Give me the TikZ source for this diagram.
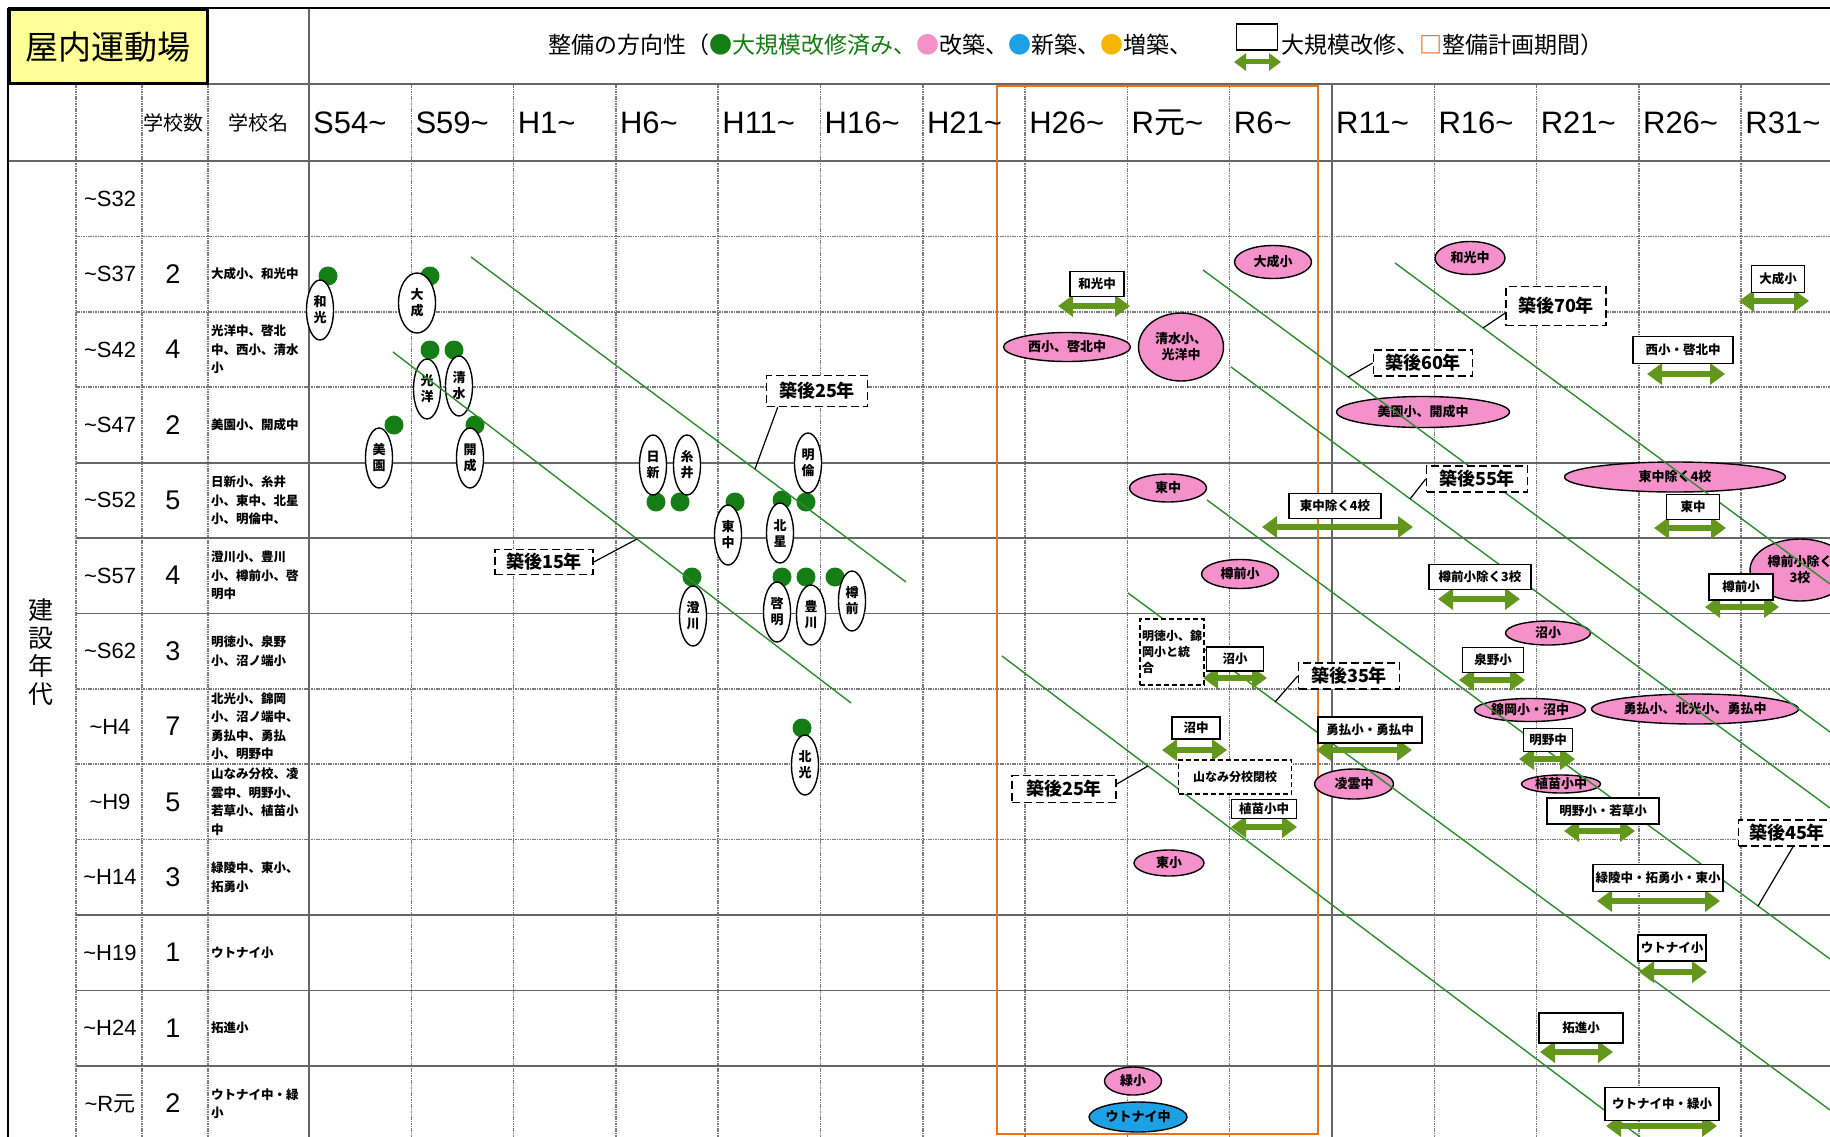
\documentclass[tikz,border=0pt]{standalone}
\usepackage{fontspec}
\setmainfont{Noto Sans CJK JP}
\newfontfamily\jpf{Noto Sans CJK JP}
\newfontfamily\latinf{Liberation Sans}
\usetikzlibrary{shapes.geometric,arrows.meta,positioning}
\definecolor{dotgreen}{RGB}{20,125,20}
\definecolor{linegreen}{RGB}{45,140,45}
\definecolor{arrowgreen}{RGB}{98,150,28}
\definecolor{rebuildpink}{RGB}{244,145,202}
\definecolor{newblue}{RGB}{28,162,228}
\definecolor{addorange}{RGB}{245,182,0}
\definecolor{planorange}{RGB}{230,115,30}
\definecolor{titleyellow}{RGB}{255,255,153}
\newcommand{\wave}{\textasciitilde}

\begin{document}
\begin{tikzpicture}[x=1pt, y=-1pt]
\tikzstyle{gridline}=[draw=black!52, line width=1.5pt, dash pattern=on 1.6pt off 0.8pt]
\tikzstyle{gridbold}=[draw=black!60, line width=1.8pt]
\tikzstyle{outer}=[draw=black, line width=2.5pt]
\tikzstyle{period}=[anchor=west, inner sep=0, font=\latinf\fontsize{31}{31}\selectfont]
\tikzstyle{rowlabel}=[inner sep=0, font=\latinf\fontsize{22}{22}\selectfont]
\tikzstyle{tally}=[inner sep=0, font=\latinf\fontsize{27}{27}\selectfont]
\tikzstyle{schoolnames}=[anchor=west, inner sep=0, align=left, font=\bfseries\fontsize{12.5}{18.5}\selectfont]
\tikzstyle{done}=[circle, fill=dotgreen, minimum size=19pt, inner sep=0]
\tikzstyle{built}=[ellipse, draw, line width=1.4pt, fill=white, minimum width=27pt, minimum height=60pt, inner sep=0, align=center, font=\bfseries\fontsize{13}{16}\selectfont]
\tikzstyle{rebuild}=[ellipse, draw, line width=1.4pt, fill=rebuildpink, inner sep=0, align=center, font=\bfseries\fontsize{13}{16}\selectfont]
\tikzstyle{newbuild}=[rebuild, fill=newblue]
\tikzstyle{renew}=[draw, line width=1.4pt, fill=white, inner sep=0, font=\bfseries\fontsize{12.5}{16}\selectfont]
\tikzstyle{fat}=[draw=arrowgreen, line width=6pt, {Triangle[width=21pt,length=15pt]}-{Triangle[width=21pt,length=15pt]}]
\tikzstyle{note}=[draw, line width=1.4pt, dash pattern=on 5pt off 3pt, fill=white, inner sep=2pt, align=left, font=\bfseries\fontsize{12}{16}\selectfont]
\tikzstyle{age}=[draw, line width=1.6pt, dash pattern=on 8pt off 4pt, fill=white, inner sep=0, font=\bfseries\fontsize{18}{18}\selectfont]
\tikzstyle{ageline}=[draw=linegreen, line width=1.4pt]
\tikzstyle{leader}=[draw=black, line width=1.2pt]

\useasboundingbox (0,0) rectangle (1830,1137);
\fill[white] (0,0) rectangle (1830,1137);

% grid
\foreach \k in {1,...,9,11,12,13,14}
  \draw[gridline] ({309+102.3*\k},84) -- ({309+102.3*\k},1137);
\foreach \xx in {76,142,208}
  \draw[gridline] (\xx,84) -- (\xx,1137);
\foreach \r in {1,2,3,7,8,9}
  \draw[gridline] (76,{161+75.4*\r}) -- (1830,{161+75.4*\r});
\foreach \r in {4,5,6,10,11,12}
  \draw[gridbold] (76,{161+75.4*\r}) -- (1830,{161+75.4*\r});
\draw[gridbold] (207,84) -- (1830,84);
\draw[gridbold, line width=2.2pt] (8,161) -- (1830,161);
\draw[gridbold] (309,8) -- (309,1137);
\draw[gridbold] (1332,84) -- (1332,1137);
\draw[outer] (8,8) -- (1830,8);
\draw[outer] (8,8) -- (8,1137);

% plan period
\draw[draw=planorange, line width=2.4pt] (997,86) rectangle (1318,1134);

% header
\node[draw, line width=3pt, fill=titleyellow, minimum width=198, minimum height=74, inner sep=0,
  font=\fontsize{33}{33}\selectfont] (facility) at (108,47) {屋内運動場};
\node[anchor=west, inner sep=0, font=\fontsize{23}{23}\selectfont] (title) at (548,45)
  {整備の方向性（{\color{dotgreen}●大規模改修済み、}{\color{rebuildpink}●}改築、{\color{newblue}●}新築、{\color{addorange}●}増築、};
\node[renew, minimum width=41, minimum height=26] (legbox) at (1257,37) {};
\draw[fat, line width=5pt, {Triangle[width=17pt,length=12pt]}-{Triangle[width=17pt,length=12pt]}] (1234,62) -- (1281,62);
\node[anchor=west, inner sep=0, font=\fontsize{23}{23}\selectfont] (title2) at (1281,45)
  {大規模改修、{\color{planorange}\bfseries □}整備計画期間）};

\node[inner sep=0, font=\fontsize{20}{20}\selectfont] (hcount) at (173,123) {学校数};
\node[inner sep=0, font=\fontsize{20}{20}\selectfont] (hname) at (258,123) {学校名};
\foreach \lbl [count=\k from 0] in {S54\wave,S59\wave,H1\wave,H6\wave,H11\wave,H16\wave,H21\wave,H26\wave,R{\jpf 元}\wave,R6\wave,R11\wave,R16\wave,R21\wave,R26\wave,R31\wave}
  \node[period] (p\k) at ({313+102.3*\k},123) {\lbl};

\node[inner sep=0, align=center, font=\fontsize{25}{28}\selectfont] (era) at (41,652) {建\\設\\年\\代};
\foreach \lbl [count=\r from 0] in {S32,S37,S42,S47,S52,S57,S62,H4,H9,H14,H19,H24,R{\jpf 元}}
  \node[rowlabel] (y\r) at (110,{198.7+75.4*\r}) {\wave\lbl};
\foreach \n/\r in {2/1,4/2,2/3,5/4,4/5,3/6,7/7,5/8,3/9,1/10,1/11,2/12}
  \node[tally] (n\r) at (173,{198.7+75.4*\r}) {\n};

\node[schoolnames] (s1) at (211,274.1) {大成小、和光中};
\node[schoolnames] (s2) at (211,349.5) {光洋中、啓北\\中、西小、清水\\小};
\node[schoolnames] (s3) at (211,424.9) {美園小、開成中};
\node[schoolnames] (s4) at (211,500.3) {日新小、糸井\\小、東中、北星\\小、明倫中、};
\node[schoolnames] (s5) at (211,575.7) {澄川小、豊川\\小、樽前小、啓\\明中};
\node[schoolnames] (s6) at (211,651.1) {明徳小、泉野\\小、沼ノ端小};
\node[schoolnames] (s7) at (211,726.5) {北光小、錦岡\\小、沼ノ端中、\\勇払中、勇払\\小、明野中};
\node[schoolnames] (s8) at (211,801.9) {山なみ分校、凌\\雲中、明野小、\\若草小、植苗小\\中};
\node[schoolnames] (s9) at (211,877.3) {緑陵中、東小、\\拓勇小};
\node[schoolnames] (s10) at (211,952.7) {ウトナイ小};
\node[schoolnames] (s11) at (211,1028.1) {拓進小};
\node[schoolnames] (s12) at (211,1103.5) {ウトナイ中・緑\\小};

% renovated so far
\foreach \nm/\cx/\cy/\w/\dx/\dy/\ta/\tb in {
  wako/320/310/27/328/276/和/光, taisei/417/303/37/430/276/大/成,
  koyo/427/389/27/430/350/光/洋, shimizu/459/386/27/454/350/清/水,
  misono/379/458/27/394/425/美/園, kaisei/470/458/27/475/425/開/成,
  nisshin/653/465/27/656/502/日/新, itoi/687/465/27/680/502/糸/井,
  meirin/808/463/27/806/502/明/倫, higashi/728/535/27/735/502/東/中,
  hokusei/780/533/27/782/500/北/星, sumikawa/693/616/27/692/577/澄/川,
  keimei/777/612/27/782/577/啓/明, toyokawa/811/615/29/806/577/豊/川,
  tarumae/852/601/27/835/577/樽/前, hokko/805/765/27/802/728/北/光}
{
  \node[done] (d\nm) at (\dx,\dy) {};
  \node[built, minimum width=\w] (e\nm) at (\cx,\cy) {\ta\\\tb};
}

% rebuild / new build
\node[rebuild, minimum width=77, minimum height=33] (rTaisei) at (1273,262) {大成小};
\node[rebuild, minimum width=127, minimum height=29] (rNishi) at (1067,347) {西小、啓北中};
\node[rebuild, minimum width=85, minimum height=68] (rShimizu) at (1181,347) {清水小、\\光洋中};
\node[rebuild, minimum width=77, minimum height=28] (rHigashiJ) at (1168,488) {東中};
\node[rebuild, minimum width=77, minimum height=29] (rTarumae) at (1240,574) {樽前小};
\node[rebuild, minimum width=79, minimum height=30] (rRyoun) at (1354,784) {凌雲中};
\node[rebuild, minimum width=70, minimum height=26] (rHigashiE) at (1169,863) {東小};
\node[rebuild, minimum width=57, minimum height=28] (rMidori) at (1133,1081) {緑小};
\node[newbuild, minimum width=98, minimum height=30] (bUtonai) at (1138,1117) {ウトナイ中};
\node[rebuild, minimum width=173, minimum height=31] (rMisono) at (1423,412) {美園小、開成中};
\node[rebuild, minimum width=70, minimum height=33] (rWako) at (1470,258) {和光中};
\node[rebuild, minimum width=221, minimum height=30] (rFour) at (1675,477) {東中除く4校};
\node[rebuild, minimum width=100, minimum height=62] (rThree) at (1800,570) {樽前小除く\\3校};
\node[rebuild, minimum width=85, minimum height=24] (rNuma) at (1548,633) {沼小};
\node[rebuild, minimum width=111, minimum height=23] (rNishiki) at (1530,710) {錦岡小・沼中};
\node[rebuild, minimum width=207, minimum height=30] (rYufutsu) at (1695,709) {勇払小、北光小、勇払中};
\node[rebuild, minimum width=79, minimum height=18] (rUenae) at (1561,784) {植苗小中};

% age lines
\draw[ageline] (393,352) -- (851,703);
\draw[ageline] (471,257) -- (906,582);
\draw[ageline] (1002,656) -- (1640,1137);
\draw[ageline] (1128,593) -- (1830,1110);
\draw[ageline] (1203,270) -- (1830,732);
\draw[ageline] (1231,367) -- (1830,808);
\draw[ageline] (1207,500) -- (1830,959);
\draw[ageline] (1395,263) -- (1830,584);

% large-scale renovation
\foreach \xa/\xb/\yy in {1058/1130/306, 1262/1413/527, 1203/1267/678, 1162/1227/750,
  1231/1297/827, 1316/1412/750, 1739/1809/301, 1647/1725/374, 1654/1726/528,
  1438/1520/599, 1705/1779/607, 1459/1525/680, 1519/1575/759, 1564/1635/831,
  1597/1720/901, 1639/1707/972, 1540/1613/1052, 1606/1717/1126}
  \draw[fat] (\xa,\yy) -- (\xb,\yy);
\node[renew, minimum width=54, minimum height=25] (mWako) at (1097,284) {和光中};
\node[renew, minimum width=92, minimum height=25] (mFour) at (1335,506) {東中除く4校};
\node[renew, minimum width=57, minimum height=24] (mNumaE) at (1235,659) {沼小};
\node[renew, minimum width=48, minimum height=22] (mNumaJ) at (1196,728) {沼中};
\node[renew, minimum width=65, minimum height=19] (mUenae) at (1264,809) {植苗小中};
\node[renew, minimum width=104, minimum height=26] (mYufutsu) at (1370,730) {勇払小・勇払中};
\node[renew, minimum width=53, minimum height=27] (mTaisei) at (1778,279) {大成小};
\node[renew, minimum width=100, minimum height=27] (mNishi) at (1683,350) {西小・啓北中};
\node[renew, minimum width=53, minimum height=25] (mHigashiJ) at (1693,507) {東中};
\node[renew, minimum width=102, minimum height=25] (mThree) at (1480,577) {樽前小除く3校};
\node[renew, minimum width=64, minimum height=26] (mTarumae) at (1741,587) {樽前小};
\node[renew, minimum width=61, minimum height=25] (mIzumino) at (1493,660) {泉野小};
\node[renew, minimum width=49, minimum height=23] (mAkenoJ) at (1548,740) {明野中};
\node[renew, minimum width=112, minimum height=26] (mAkeno) at (1603,811) {明野小・若草小};
\node[renew, minimum width=130, minimum height=27] (mRyoryo) at (1658,878) {緑陵中・拓勇小・東小};
\node[renew, minimum width=68, minimum height=26] (mUtonaiE) at (1672,948) {ウトナイ小};
\node[renew, minimum width=84, minimum height=30] (mTakushin) at (1581,1028) {拓進小};
\node[renew, minimum width=114, minimum height=33] (mUtonai) at (1662,1104) {ウトナイ中・緑小};

\node[note, minimum width=62, minimum height=66] (nMeitoku) at (1172,652) {明徳小、錦\\岡小と統\\合};
\node[note, minimum width=113, minimum height=34, align=center] (nYamanami) at (1235,777) {山なみ分校閉校};

% age labels
\coordinate (k15) at (637,539);
\coordinate (k25a) at (755,469);
\coordinate (k25b) at (1148,766);
\coordinate (k35) at (1275,702);
\coordinate (k45) at (1758,906);
\coordinate (k55) at (1410,499);
\coordinate (k60) at (1348,377);
\coordinate (k70) at (1483,328);
\node[age, minimum width=98, minimum height=25] (a15) at (544,562) {築後15年};
\node[age, minimum width=101, minimum height=31] (a25a) at (817,391) {築後25年};
\node[age, minimum width=104, minimum height=27] (a25b) at (1064,789) {築後25年};
\node[age, minimum width=101, minimum height=26] (a35) at (1349,676) {築後35年};
\node[age, minimum width=97, minimum height=26] (a45) at (1787,833) {築後45年};
\node[age, minimum width=101, minimum height=26] (a55) at (1477,479) {築後55年};
\node[age, minimum width=99, minimum height=26] (a60) at (1423,363) {築後60年};
\node[age, minimum width=100, minimum height=39] (a70) at (1556,306) {築後70年};
\draw[leader] (a15.east) -- (k15);
\draw[leader] ([xshift=12pt]a25a.south west) -- (k25a);
\draw[leader] ([yshift=5pt]a25b.east) -- (k25b);
\draw[leader] (a35.west) -- (k35);
\draw[leader] ([xshift=6pt]a45.south) -- (k45);
\draw[leader] (a55.west) -- (k55);
\draw[leader] (a60.west) -- (k60);
\draw[leader] ([yshift=-7pt]a70.west) -- (k70);
\end{tikzpicture}
\end{document}
